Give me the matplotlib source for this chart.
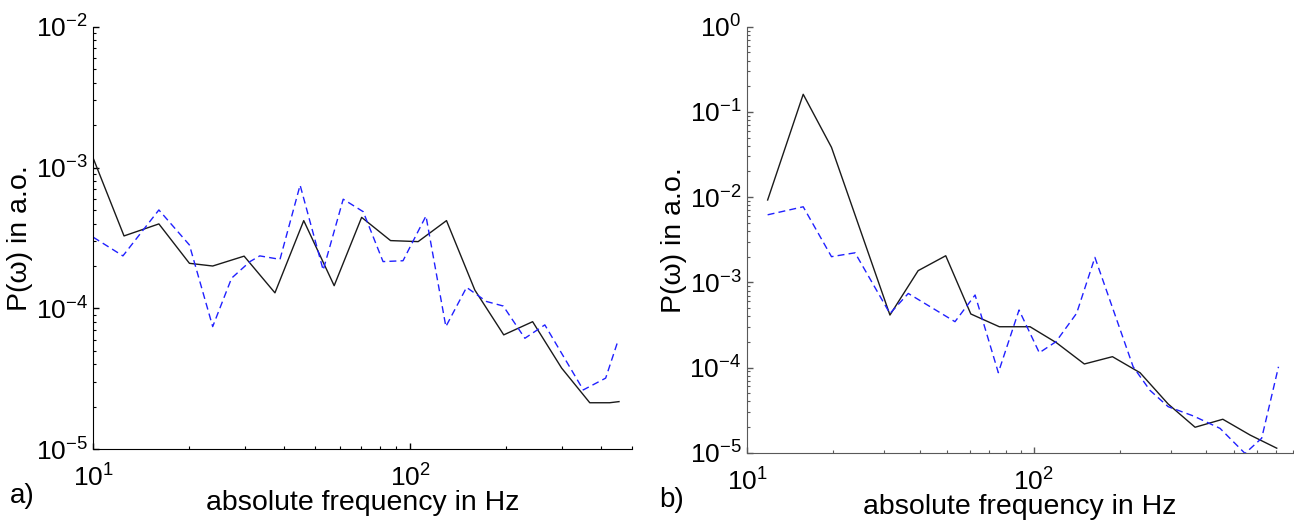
import matplotlib
matplotlib.use("Agg")
import matplotlib.pyplot as plt
from matplotlib.ticker import LogLocator, NullFormatter

plt.rcParams['font.family'] = ['Liberation Sans', 'DejaVu Sans']
plt.rcParams['mathtext.fontset'] = 'custom'
plt.rcParams['mathtext.rm'] = 'Liberation Sans'
plt.rcParams['mathtext.it'] = 'Liberation Sans:italic'
plt.rcParams['mathtext.sf'] = 'Liberation Sans'

# a) datos
fa_negro = [10, 12.5, 16.1, 20.1, 23.8, 29.9, 37.4, 46.1, 57.5, 70.2, 86.6,
            105.8, 130, 159.7, 197, 243, 300, 368, 425, 455]
pa_negro = [1.16e-3, 3.27e-4, 3.98e-4, 2.09e-4, 2.0e-4, 2.35e-4, 1.29e-4, 4.2e-4,
            1.45e-4, 4.43e-4, 3.03e-4, 2.98e-4, 4.2e-4, 1.35e-4, 6.49e-5, 8.05e-5,
            3.77e-5, 2.14e-5, 2.14e-5, 2.18e-5]
fa_azul = [10, 12.4, 16.1, 20.1, 23.8, 27.3, 31.2, 33.5, 38.8, 44.9, 53.1, 61.4,
           71.0, 82, 94.8, 112, 129.4, 150.4, 173.8, 196.3, 229.7, 265.5, 351,
           413, 449]
pa_azul = [3.2e-4, 2.36e-4, 5.0e-4, 2.82e-4, 7.43e-5, 1.64e-4, 2.15e-4, 2.36e-4,
           2.23e-4, 7.5e-4, 1.87e-4, 5.96e-4, 4.86e-4, 2.15e-4, 2.18e-4, 4.53e-4,
           7.43e-5, 1.41e-4, 1.12e-4, 1.04e-4, 6.14e-5, 7.64e-5, 2.64e-5, 3.2e-5,
           5.66e-5]

# b) datos
fb_negro = [11.8, 15.7, 19.7, 31.5, 39.5, 49.3, 60.3, 75.8, 97, 120, 150, 188,
            234.6, 294, 365, 456, 568, 703]
pb_negro = [9.25e-3, 0.161, 0.0384, 4.13e-4, 1.37e-3, 2.05e-3, 4.25e-4, 3.01e-4,
            3.01e-4, 1.95e-4, 1.10e-4, 1.34e-4, 8.69e-5, 3.73e-5, 1.99e-5, 2.47e-5,
            1.61e-5, 1.13e-5]
fb_azul = [11.8, 15.7, 19.7, 23.8, 31.5, 36.5, 53.1, 62.4, 75.2, 88.8, 104.5,
           119.5, 141, 163.3, 222, 254, 294, 360, 446, 545, 623, 713]
pb_azul = [6.2e-3, 7.7e-3, 2.0e-3, 2.22e-3, 4.3e-4, 7.4e-4, 3.45e-4, 7.1e-4, 8.7e-5,
           4.73e-4, 1.49e-4, 2.01e-4, 4.33e-4, 1.96e-3, 1.02e-4, 5.4e-5, 3.47e-5,
           2.7e-5, 1.93e-5, 9.8e-6, 1.48e-5, 1.02e-4]

fig = plt.figure(figsize=(12.94, 5.25), dpi=100)
ax1 = fig.add_axes([0.0721, 0.1442, 0.4163, 0.805])
ax2 = fig.add_axes([0.5773, 0.1377, 0.4218, 0.8114])

paneles = [
    (ax1, fa_negro, pa_negro, fa_azul, pa_azul, (10, 500), (1e-5, 1e-2), 'a)', 'k'),
    (ax2, fb_negro, pb_negro, fb_azul, pb_azul, (10, 800), (1e-5, 1e0), 'b)', '0.35'),
]

for ax, fn, pn, fz, pz, xl, yl, letra, col in paneles:
    ax.plot(fn, pn, color='#1a1a1a', lw=1.0)
    ax.plot(fz, pz, color='#2020ff', lw=1.0, linestyle=(0, (5, 3)))
    ax.set_xscale('log')
    ax.set_yscale('log')
    ax.set_xlim(xl)
    ax.set_ylim(yl)
    ax.spines['top'].set_visible(False)
    ax.spines['right'].set_visible(False)
    ax.spines['left'].set_color(col)
    ax.spines['bottom'].set_color(col)
    ax.yaxis.set_major_locator(LogLocator(base=10, numticks=20))
    ax.yaxis.set_minor_locator(LogLocator(base=10, subs=range(2, 10), numticks=20))
    ax.xaxis.set_minor_formatter(NullFormatter())
    ax.yaxis.set_minor_formatter(NullFormatter())
    ax.tick_params(which='both', direction='in', colors=col, labelcolor='k',
                   labelsize=19)
    ax.tick_params(which='major', length=4, width=1)
    ax.tick_params(which='minor', length=2.5, width=0.8)
    ax.tick_params(axis='x', which='major', pad=11)
    ax.tick_params(axis='y', which='major', pad=4)
    ax.set_xlabel('absolute frequency in Hz', fontsize=20.5, labelpad=-1)
    ax.set_ylabel('P(ω) in a.o.', fontsize=20.5, labelpad=2)
    ax.text(-0.155 if ax is ax1 else -0.16, -0.11, letra, transform=ax.transAxes,
            fontsize=20, ha='left', va='center')

fig.savefig('out.png', dpi=100)
